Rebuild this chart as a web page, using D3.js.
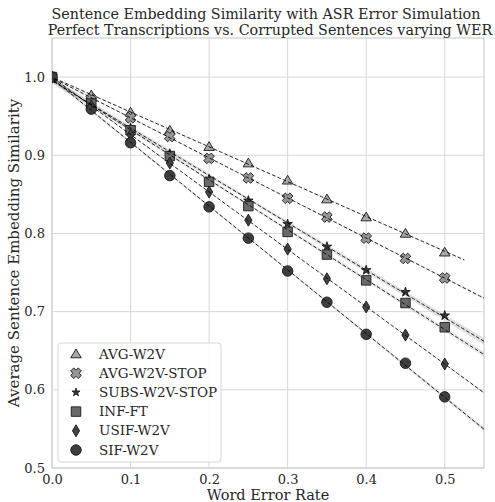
<!DOCTYPE html>
<html>
<head>
<meta charset="utf-8">
<script src="https://cdn.jsdelivr.net/npm/d3@7"></script>
<style>
  body { margin: 0; background: #fff; }
  svg { display: block; font-family: "DejaVu Serif", serif; }
</style>
</head>
<body>
<svg id="chart" width="495" height="502"></svg>
<script>
// word error rates
const wer = [0, 0.05, 0.1, 0.15, 0.2, 0.25, 0.3, 0.35, 0.4, 0.45, 0.5];

// average similarity per model
const avgW2v     = [1.0, 0.977, 0.955, 0.932, 0.911, 0.890, 0.868, 0.844, 0.821, 0.800, 0.776];
const avgW2vStop = [1.0, 0.972, 0.948, 0.924, 0.896, 0.871, 0.845, 0.821, 0.794, 0.768, 0.743];
const subsW2v    = [1.0, 0.967, 0.935, 0.902, 0.869, 0.842, 0.812, 0.783, 0.753, 0.725, 0.695];
const infFt      = [1.0, 0.966, 0.932, 0.899, 0.866, 0.835, 0.802, 0.773, 0.740, 0.711, 0.680];
const usifW2v    = [1.0, 0.963, 0.926, 0.890, 0.853, 0.817, 0.780, 0.742, 0.706, 0.670, 0.633];
const sifW2v     = [1.0, 0.959, 0.916, 0.874, 0.834, 0.794, 0.752, 0.712, 0.671, 0.634, 0.591];

const seriesNames = ['AVG-W2V', 'AVG-W2V-STOP', 'SUBS-W2V-STOP', 'INF-FT', 'USIF-W2V', 'SIF-W2V'];
const seriesValues = [avgW2v, avgW2vStop, subsW2v, infFt, usifW2v, sifW2v];

const xTicks = [0, 0.1, 0.2, 0.3, 0.4, 0.5];
const yTicks = [0.5, 0.6, 0.7, 0.8, 0.9, 1.0];

// marker style per series
const markers = [
  { shape: 'triangle', fill: '#a8a8a8', size: 10.5 },
  { shape: 'cross',    fill: '#959595', size: 10.5 },
  { shape: 'star',     fill: '#383838', size: 10 },
  { shape: 'square',   fill: '#6a6a6a', size: 9.5 },
  { shape: 'diamond',  fill: '#424242', size: 12 },
  { shape: 'circle',   fill: '#3e3e3e', size: 10.5 },
];
// fit line extent (first fit stops at the old axis limit)
const fitEnds = [0.525, 0.55, 0.55, 0.55, 0.55, 0.55];

const svg = d3.select('#chart');
const W = 495, H = 502;
const m = { left: 52, right: 11, top: 38, bottom: 34 };
const pw = W - m.left - m.right, ph = H - m.top - m.bottom;

const x = d3.scaleLinear().domain([0, 0.55]).range([m.left, m.left + pw]);
const y = d3.scaleLinear().domain([0.5, 1.05]).range([m.top + ph, m.top]);

svg.append('defs').append('clipPath').attr('id', 'clip')
  .append('rect').attr('x', m.left).attr('y', m.top).attr('width', pw).attr('height', ph);

// grid
const grid = svg.append('g').attr('stroke', '#d8d8d8').attr('stroke-width', 1);
xTicks.forEach((t) => grid.append('line')
  .attr('x1', x(t)).attr('x2', x(t)).attr('y1', m.top).attr('y2', m.top + ph));
yTicks.forEach((t) => grid.append('line')
  .attr('x1', m.left).attr('x2', m.left + pw).attr('y1', y(t)).attr('y2', y(t)));

// axes, no tick marks (whitegrid style)
const xAxis = svg.append('g').attr('transform', `translate(0,${m.top + ph})`)
  .call(d3.axisBottom(x).tickValues(xTicks).tickFormat(d3.format('.1f')).tickSize(0).tickPadding(7));
const yAxis = svg.append('g').attr('transform', `translate(${m.left},0)`)
  .call(d3.axisLeft(y).tickValues(yTicks).tickFormat(d3.format('.1f')).tickSize(0).tickPadding(7));
[xAxis, yAxis].forEach((g) => {
  g.select('.domain').remove();
  g.selectAll('text').attr('fill', '#262626').style('font-size', '13px')
    .style('font-family', '"DejaVu Serif", serif');
});

// plot frame
svg.append('rect').attr('x', m.left).attr('y', m.top).attr('width', pw).attr('height', ph)
  .attr('fill', 'none').attr('stroke', '#cfcfcf').attr('stroke-width', 1.2);

function markerPath(shape, s) {
  const r = s / 2;
  switch (shape) {
    case 'triangle':
      return `M0,${-r * 0.95}L${r},${r * 0.72}L${-r},${r * 0.72}Z`;
    case 'square':
      return `M${-r},${-r}H${r}V${r}H${-r}Z`;
    case 'diamond':
      return `M0,${-r}L${r * 0.6},0L0,${r}L${-r * 0.6},0Z`;
    case 'circle':
      return d3.symbol(d3.symbolCircle, Math.PI * r * r)();
    case 'star':
      return d3.symbol(d3.symbolStar, (r * r) / 0.8908)();
    case 'cross': {
      // thick plus, turned 45 degrees
      const w = r * 0.42, L = r * 1.02;
      const pts = [[-w, -L], [w, -L], [w, -w], [L, -w], [L, w], [w, w],
        [w, L], [-w, L], [-w, w], [-L, w], [-L, -w], [-w, -w]];
      const c = Math.SQRT1_2;
      return 'M' + pts.map(([px, py]) => [(px - py) * c, (px + py) * c].join(',')).join('L') + 'Z';
    }
  }
}

// least squares fit with 95% confidence band
function fit(xs, ys) {
  const n = xs.length;
  const mx = d3.mean(xs), my = d3.mean(ys);
  const sxx = d3.sum(xs, (v) => (v - mx) ** 2);
  const b = d3.sum(xs, (v, i) => (v - mx) * (ys[i] - my)) / sxx;
  const a = my - b * mx;
  const sse = d3.sum(xs, (v, i) => (ys[i] - (a + b * v)) ** 2);
  const se = Math.sqrt(sse / (n - 2));
  return { a, b, band: (v) => 2.262 * se * Math.sqrt(1 / n + (v - mx) ** 2 / sxx) };
}

const plot = svg.append('g').attr('clip-path', 'url(#clip)');
const markLayer = plot.append('g');
const bandLayer = plot.append('g');
const lineLayer = plot.append('g');

seriesValues.forEach((vals, i) => {
  const mk = markers[i];
  markLayer.append('g').selectAll('path').data(wer).join('path')
    .attr('transform', (d, j) => `translate(${x(d)},${y(vals[j])})`)
    .attr('d', markerPath(mk.shape, mk.size))
    .attr('fill', mk.fill).attr('stroke', '#1a1a1a').attr('stroke-width', 0.9);

  const f = fit(wer, vals);
  const xs = d3.range(0, 101).map((k) => -0.01 + k / 100 * (fitEnds[i] + 0.01));
  bandLayer.append('path')
    .datum(xs)
    .attr('d', d3.area()
      .x((d) => x(d))
      .y0((d) => y(f.a + f.b * d - f.band(d)))
      .y1((d) => y(f.a + f.b * d + f.band(d))))
    .attr('fill', mk.fill).attr('opacity', 0.16);
  lineLayer.append('path')
    .datum(xs)
    .attr('d', d3.line().x((d) => x(d)).y((d) => y(f.a + f.b * d)))
    .attr('fill', 'none').attr('stroke', '#000').attr('stroke-width', 0.85)
    .attr('stroke-dasharray', '3.6,2.2');
});

// legend
const lg = svg.append('g').attr('transform', 'translate(58,343)');
lg.append('rect').attr('width', 163).attr('height', 119).attr('rx', 3)
  .attr('fill', '#fff').attr('fill-opacity', 0.8).attr('stroke', '#d6d6d6');
seriesNames.forEach((name, i) => {
  const row = lg.append('g').attr('transform', `translate(18,${11 + i * 19.2})`);
  row.append('path').attr('d', markerPath(markers[i].shape, markers[i].shape === 'star' ? 8.5 : markers[i].size))
    .attr('fill', markers[i].fill).attr('stroke', '#1a1a1a').attr('stroke-width', 0.9);
  row.append('text').attr('x', 23).attr('y', 4.5).text(name)
    .attr('fill', '#262626').style('font-size', '13.5px');
});

// titles
svg.append('text').attr('x', 266).attr('y', 19).attr('text-anchor', 'middle')
  .attr('fill', '#262626').style('font-size', '14.3px')
  .text('Sentence Embedding Similarity with ASR Error Simulation');
svg.append('text').attr('x', 270).attr('y', 35).attr('text-anchor', 'middle')
  .attr('fill', '#262626').style('font-size', '14.3px')
  .text('Perfect Transcriptions vs. Corrupted Sentences varying WER');
svg.append('text').attr('x', x(0.275)).attr('y', 500).attr('text-anchor', 'middle')
  .attr('fill', '#262626').style('font-size', '14.5px').text('Word Error Rate');
svg.append('text').attr('transform', `translate(19,${m.top + ph / 2}) rotate(-90)`)
  .attr('text-anchor', 'middle').attr('fill', '#262626').style('font-size', '15px')
  .text('Average Sentence Embedding Similarity');
</script>
</body>
</html>
